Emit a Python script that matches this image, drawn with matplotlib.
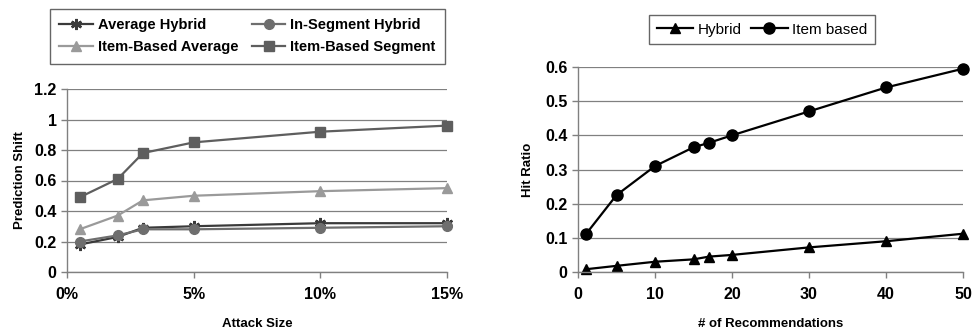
import matplotlib
matplotlib.use("Agg")
import matplotlib.pyplot as plt

plt.rcParams['font.family'] = ['Liberation Sans', 'DejaVu Sans']
plt.rcParams['font.weight'] = 'bold'

# Left chart data
attack_size = [0.5, 2, 3, 5, 10, 15]
avg_hybrid = [0.18, 0.23, 0.29, 0.30, 0.32, 0.32]
inseg_hybrid = [0.20, 0.24, 0.28, 0.28, 0.29, 0.30]
item_avg = [0.28, 0.37, 0.47, 0.50, 0.53, 0.55]
item_seg = [0.49, 0.61, 0.78, 0.85, 0.92, 0.96]
left_xticks = [0, 5, 10, 15]
left_xticklabels = ["0%", "5%", "10%", "15%"]
left_yticks = [0, 0.2, 0.4, 0.6, 0.8, 1.0, 1.2]
left_yticklabels = ["0", "0.2", "0.4", "0.6", "0.8", "1", "1.2"]

# Right chart data
n_recs = [1, 5, 10, 15, 17, 20, 30, 40, 50]
hybrid = [0.008, 0.018, 0.03, 0.037, 0.045, 0.05, 0.072, 0.09, 0.112]
item_based = [0.11, 0.225, 0.31, 0.365, 0.378, 0.40, 0.47, 0.54, 0.595]
right_xticks = [0, 10, 20, 30, 40, 50]
right_yticks = [0, 0.1, 0.2, 0.3, 0.4, 0.5, 0.6]
right_yticklabels = ["0", "0.1", "0.2", "0.3", "0.4", "0.5", "0.6"]

W, H = 972, 333
fig = plt.figure(figsize=(W / 100, H / 100), dpi=100)

def px_axes(x0, y0, x1, y1):
    return fig.add_axes([x0 / W, 1 - y1 / H, (x1 - x0) / W, (y1 - y0) / H])

def style(ax):
    for s in ['top', 'right']:
        ax.spines[s].set_visible(False)
    for s in ['left', 'bottom']:
        ax.spines[s].set_color('#808080')
        ax.spines[s].set_linewidth(1.0)
    ax.yaxis.grid(True, color='#808080', linewidth=0.9)
    ax.set_axisbelow(True)
    ax.tick_params(axis='both', colors='#808080', labelcolor='black', labelsize=11.5,
                   length=4, width=1.0)
    ax.tick_params(axis='x', pad=7)
    for lbl in ax.get_xticklabels() + ax.get_yticklabels():
        lbl.set_fontweight('bold')

# Left axes
ax1 = px_axes(67, 89, 447, 272)
l_ah, = ax1.plot(attack_size, avg_hybrid, color='#3a3a3a', marker=(6, 2, 0), markersize=8,
                 markeredgewidth=1.8, lw=1.6, label='Average Hybrid', clip_on=False)
l_ih, = ax1.plot(attack_size, inseg_hybrid, color='#6e6e6e', marker='o', markersize=7,
                 lw=1.6, label='In-Segment Hybrid', clip_on=False)
l_ia, = ax1.plot(attack_size, item_avg, color='#9a9a9a', marker='^', markersize=7,
                 lw=1.6, label='Item-Based Average', clip_on=False)
l_is, = ax1.plot(attack_size, item_seg, color='#5e5e5e', marker='s', markersize=7,
                 lw=1.6, label='Item-Based Segment', clip_on=False)
ax1.set_xlim(0, 15)
ax1.set_ylim(0, 1.2)
ax1.set_xticks(left_xticks)
ax1.set_xticklabels(left_xticklabels)
ax1.set_yticks(left_yticks)
ax1.set_yticklabels(left_yticklabels)
style(ax1)
ax1.set_xlabel('Attack Size', fontsize=9.5, fontweight='bold', labelpad=11)
ax1.set_ylabel('Prediction Shift', fontsize=9.5, fontweight='bold', labelpad=6)
leg1 = fig.legend(handles=[l_ah, l_ia, l_ih, l_is], loc='upper left',
                  bbox_to_anchor=(50 / W, 1 - 9 / H), borderaxespad=0, ncol=2, frameon=True,
                  fancybox=False, edgecolor='#404040',
                  prop={'weight': 'bold', 'size': 10.5}, handlelength=2.3,
                  columnspacing=0.9, borderpad=0.65, labelspacing=0.55, handletextpad=0.35)
leg1.get_frame().set_linewidth(1.0)

# Right axes
ax2 = px_axes(578, 67, 963, 272)
ax2.plot(n_recs, hybrid, color='black', marker='^', markersize=6.5, lw=1.6,
         label='Hybrid', clip_on=False)
ax2.plot(n_recs, item_based, color='black', marker='o', markersize=8, lw=1.6,
         label='Item based', clip_on=False)
ax2.set_xlim(0, 50)
ax2.set_ylim(0, 0.6)
ax2.set_xticks(right_xticks)
ax2.set_yticks(right_yticks)
ax2.set_yticklabels(right_yticklabels)
style(ax2)
ax2.set_xlabel('# of Recommendations', fontsize=9.5, fontweight='bold', labelpad=11)
ax2.set_ylabel('Hit Ratio', fontsize=9.5, fontweight='bold', labelpad=8)
leg2 = fig.legend(handles=ax2.get_lines(), loc='upper left',
                  bbox_to_anchor=(649 / W, 1 - 15 / H), borderaxespad=0, ncol=2, frameon=True,
                  fancybox=False, edgecolor='#404040',
                  prop={'weight': 'normal', 'size': 11}, handlelength=2.4,
                  columnspacing=0.6, borderpad=0.5, handletextpad=0.3)
leg2.get_frame().set_linewidth(1.0)

fig.savefig('out.png', dpi=100)
